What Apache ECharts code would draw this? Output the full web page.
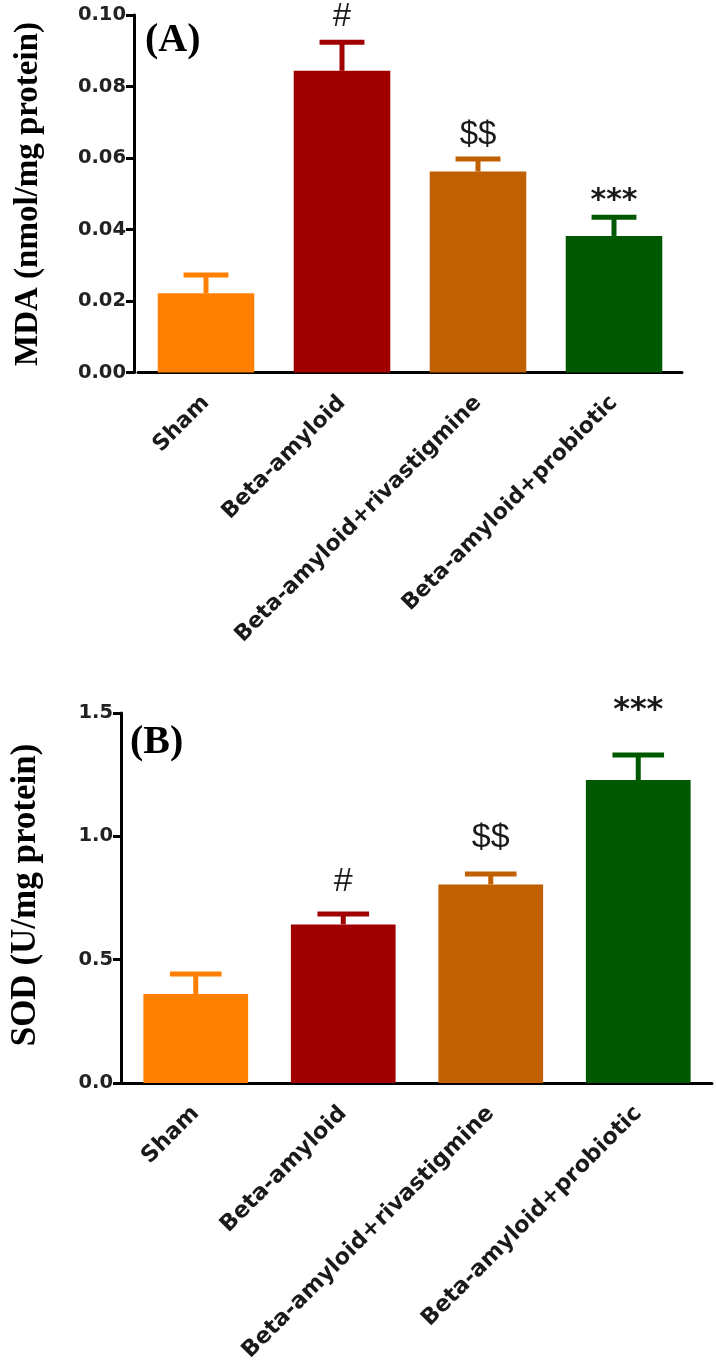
<!DOCTYPE html>
<html><head><meta charset="utf-8">
<script src="https://cdn.jsdelivr.net/npm/echarts@6/dist/echarts.min.js"></script>
<style>html,body{margin:0;padding:0;background:#fff}#c{width:716px;height:1362px}</style>
</head><body><div id="c"></div>
<script>
// ---- data ----
const categories = ['Sham', 'Beta-amyloid', 'Beta-amyloid+rivastigmine', 'Beta-amyloid+probiotic'];
const barColors = ['#FF8000', '#A00000', '#C06000', '#005800'];

// Panel A: MDA (nmol/mg protein)
const mdaMean  = [0.0222, 0.0844, 0.0562, 0.0382];
const mdaUpper = [0.0273, 0.0924, 0.0597, 0.0434];
const mdaMarks = ['', '#', '$$', '***'];
const mdaMarkLevel = [null, 0.0995, 0.0664, 0.0478];
const mdaTickLabels = ['0.00', '0.02', '0.04', '0.06', '0.08', '0.10'];

// Panel B: SOD (U/mg protein)
const sodMean  = [0.361, 0.643, 0.805, 1.228];
const sodUpper = [0.442, 0.685, 0.847, 1.330];
const sodMarks = ['', '#', '$$', '***'];
const sodMarkLevel = [null, 0.815, 0.995, 1.508];
const sodTickLabels = ['0.0', '0.5', '1.0', '1.5'];

// ---- chart ----
const chart = echarts.init(document.getElementById('c'));

const tickFont = {fontFamily: 'DejaVu Sans', fontWeight: 'bold', fontSize: 19.5, color: '#222'};
const catFont  = {fontFamily: 'DejaVu Sans', fontWeight: 'bold', color: '#1a1a1a'};

function xAx(gi, size, margin) {
  return {
    type: 'category', gridIndex: gi, data: categories,
    axisLine: {lineStyle: {color: '#000', width: 3}},
    axisTick: {alignWithLabel: true, length: 9, lineStyle: {color: '#000', width: 3}},
    axisLabel: Object.assign({rotate: 45, margin: margin, fontSize: size, interval: 0}, catFont)
  };
}
function yAx(gi, max, interval, labels, offset) {
  return {
    type: 'value', gridIndex: gi, min: 0, max: max, interval: interval, offset: offset,
    splitLine: {show: false},
    axisLine: {show: true, lineStyle: {color: '#000', width: 3}},
    axisTick: {show: true, length: 8, lineStyle: {color: '#000', width: 3}},
    axisLabel: Object.assign({margin: 8, formatter: (v) => labels[Math.round(v / interval)]}, tickFont)
  };
}
function barSeries(gi, mean) {
  return {
    type: 'bar', xAxisIndex: gi, yAxisIndex: gi, barCategoryGap: '29%',
    data: mean.map((v, i) => ({value: v, itemStyle: {color: barColors[i]}})),
    silent: true, animation: false
  };
}
function errSeries(gi, mean, upper, marks, levels, capFrac, markSizes) {
  return {
    type: 'custom', xAxisIndex: gi, yAxisIndex: gi, animation: false, silent: true, z: 5,
    data: mean.map((m, i) => [i, m, upper[i]]),
    renderItem(params, api) {
      const i = api.value(0);
      const top = api.coord([i, api.value(1)]);
      const cap = api.coord([i, api.value(2)]);
      const band = api.size([1, 0])[0];
      const hw = band * capFrac / 2;
      const col = barColors[i];
      const children = [
        {type: 'line', shape: {x1: top[0], y1: top[1], x2: cap[0], y2: cap[1]}, style: {stroke: col, lineWidth: 5}},
        {type: 'line', shape: {x1: cap[0] - hw, y1: cap[1], x2: cap[0] + hw, y2: cap[1]}, style: {stroke: col, lineWidth: 5}}
      ];
      if (marks[i]) {
        const p = api.coord([i, levels[i]]);
        const star = marks[i] === '***';
        children.push({
          type: 'text', x: p[0], y: p[1],
          style: {
            text: marks[i], align: 'center', verticalAlign: 'middle',
            fontFamily: star ? 'DejaVu Sans' : 'Liberation Sans',
            fontWeight: star ? 'bold' : 'normal',
            fontSize: star ? markSizes[1] : markSizes[0], fill: '#1a1a1a'
          }
        });
      }
      return {type: 'group', children};
    }
  };
}

const serifBold = {fontFamily: 'Liberation Serif', fontWeight: 'bold', fill: '#000'};

chart.setOption({
  animation: false,
  backgroundColor: '#fff',
  grid: [
    {left: 138, right: 34, top: 15, height: 357.5, containLabel: false, outerBoundsMode: 'none'},
    {left: 122, right: 4, top: 713, height: 370, containLabel: false, outerBoundsMode: 'none'}
  ],
  xAxis: [xAx(0, 22, 27), xAx(1, 22.5, 27)],
  yAxis: [yAx(0, 0.1, 0.02, mdaTickLabels, 4), yAx(1, 1.5, 0.5, sodTickLabels, 1)],
  series: [
    barSeries(0, mdaMean),
    errSeries(0, mdaMean, mdaUpper, mdaMarks, mdaMarkLevel, 0.33, [33, 30]),
    barSeries(1, sodMean),
    errSeries(1, sodMean, sodUpper, sodMarks, sodMarkLevel, 0.35, [34, 32])
  ],
  graphic: [
    {type: 'text', x: 28, y: 194, rotation: Math.PI / 2,
     style: Object.assign({text: 'MDA (nmol/mg protein)', fontSize: 33, align: 'center', verticalAlign: 'middle'}, serifBold)},
    {type: 'text', x: 26, y: 895, rotation: Math.PI / 2,
     style: Object.assign({text: 'SOD (U/mg protein)', fontSize: 35, align: 'center', verticalAlign: 'middle'}, serifBold)},
    {type: 'text', x: 145, y: 41,
     style: Object.assign({text: '(A)', fontSize: 40, align: 'left', verticalAlign: 'middle'}, serifBold)},
    {type: 'text', x: 130, y: 743,
     style: Object.assign({text: '(B)', fontSize: 40, align: 'left', verticalAlign: 'middle'}, serifBold)}
  ]
});
</script></body></html>
